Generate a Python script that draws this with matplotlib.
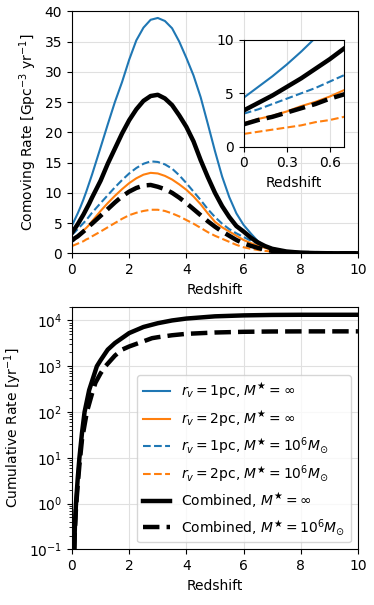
import numpy as np
import matplotlib
matplotlib.use('Agg')
from matplotlib import pyplot as plt

# redshift grid for the comoving rate curves
z = [0, 0.1, 0.2, 0.3, 0.4, 0.5, 0.6, 0.7,
     1.0, 1.25, 1.5, 1.75, 2.0, 2.25, 2.5, 2.75, 3.0, 3.25, 3.5, 3.75, 4.0, 4.25, 4.5,
     4.75, 5.0, 5.25, 5.5, 5.75, 6.0, 6.25, 6.5, 6.75, 7.0,
     7.5, 8.0, 8.5, 9.0, 10.0]

rate_1pc_inf = [4.6, 5.6, 6.6, 7.7, 8.9, 10.2, 11.6, 13.0,
                17.5, 21.3, 25, 28.3, 32, 35.2, 37.3, 38.6, 38.9, 38.4, 37.2, 35.0, 32.3, 29.4, 25.8,
                21.4, 16.9, 12.7, 9.3, 6.6, 4.7, 3.3, 2.0, 1.2, 0.75,
                0.3, 0.12, 0.05, 0.02, 0]
rate_2pc_inf = [2.2, 2.6, 2.9, 3.3, 3.8, 4.2, 4.7, 5.3,
                7.0, 8.3, 9.5, 10.6, 11.6, 12.4, 13.0, 13.3, 13.2, 12.8, 12.2, 11.4, 10.5, 9.4, 8.1,
                6.6, 5.2, 4.3, 3.6, 2.9, 2.2, 1.7, 1.3, 0.9, 0.6,
                0.25, 0.08, 0.03, 0.01, 0]
rate_1pc_1e6 = [3.1, 3.5, 4.0, 4.5, 5.0, 5.5, 6.1, 6.7,
                8.3, 9.6, 10.9, 12.1, 13.2, 14.1, 14.8, 15.2, 15.1, 14.7, 14.0, 12.9, 11.6, 10.2, 8.8,
                7.3, 6.0, 4.9, 4.0, 3.3, 2.7, 2.1, 1.6, 1.2, 0.85,
                0.35, 0.1, 0.04, 0.01, 0]
rate_2pc_1e6 = [1.2, 1.4, 1.6, 1.8, 2.0, 2.3, 2.5, 2.8,
                3.6, 4.3, 5.0, 5.7, 6.3, 6.7, 7.0, 7.2, 7.2, 7.0, 6.6, 6.1, 5.5, 4.9, 4.2,
                3.5, 2.9, 2.4, 1.9, 1.4, 1.0, 0.75, 0.55, 0.4, 0.3,
                0.1, 0.03, 0.01, 0.005, 0]
rate_comb_inf = [3.4, 4.1, 4.8, 5.6, 6.4, 7.3, 8.2, 9.2,
                 12.0, 14.8, 17.3, 19.8, 22.0, 23.8, 25.2, 26.0, 26.2, 25.6, 24.5, 22.8, 20.9, 18.5, 15.4,
                 12.6, 10.0, 7.8, 6.0, 4.5, 3.6, 2.6, 1.8, 1.2, 0.75,
                 0.3, 0.1, 0.04, 0.01, 0]
rate_comb_1e6 = [2.1, 2.5, 2.8, 3.2, 3.6, 4.0, 4.5, 4.9,
                 6.2, 7.3, 8.4, 9.4, 10.2, 10.8, 11.2, 11.3, 11.0, 10.6, 10.0, 9.2, 8.3, 7.3, 6.3,
                 5.3, 4.4, 3.6, 2.9, 2.2, 1.65, 1.25, 0.9, 0.6, 0.4,
                 0.15, 0.05, 0.02, 0.01, 0]

# cumulative rate
z_cum_inf = [0.08, 0.1, 0.14, 0.2, 0.26, 0.35, 0.44, 0.6, 0.87, 1.0, 1.25, 1.5, 2.0, 2.5, 3.0, 3.5, 4.0, 5.0, 6.0, 7.0, 8.0, 10.0]
cum_comb_inf = [0.1, 0.3, 1, 3.5, 10, 35, 100, 300, 1000, 1350, 2300, 3200, 5300, 7200, 8700, 10000, 11000, 12300, 12900, 13200, 13300, 13300]
z_cum_1e6 = [0.08, 0.1, 0.14, 0.2, 0.26, 0.35, 0.52, 0.7, 0.82, 1.0, 1.17, 1.5, 1.75, 2.0, 2.5, 2.8, 3.0, 3.5, 4.0, 5.0, 6.0, 7.0, 8.0, 10.0]
cum_comb_1e6 = [0.1, 0.25, 0.8, 2.5, 7, 25, 100, 250, 435, 700, 1000, 1700, 2300, 2700, 3500, 4100, 4300, 4750, 5100, 5450, 5650, 5740, 5770, 5780]

labels = [r'$r_v = 1$pc, $M^\bigstar = \infty$',
          r'$r_v = 2$pc, $M^\bigstar = \infty$',
          r'$r_v = 1$pc, $M^\bigstar = 10^6 M_{\odot}$',
          r'$r_v = 2$pc, $M^\bigstar = 10^6 M_{\odot}$',
          r'Combined, $M^\bigstar = \infty$',
          r'Combined, $M^\bigstar = 10^6 M_{\odot}$']

plt.rcParams['font.size'] = 10
plt.rcParams['font.family'] = ['DejaVu Sans']

blue = '#1f77b4'
orange = '#ff7f0e'
thin = 1.5
thick = 3.2

fig = plt.figure(figsize=(3.74, 6.05), dpi=100)
ax1 = fig.add_axes([0.1925, 0.5813, 0.7645, 0.40])
ax2 = fig.add_axes([0.1925, 0.0921, 0.7645, 0.401])
axin = fig.add_axes([0.652, 0.7575, 0.268, 0.1765])

def draw_rates(ax):
    ax.plot(z, rate_1pc_inf, color=blue, lw=thin)
    ax.plot(z, rate_2pc_inf, color=orange, lw=thin)
    ax.plot(z, rate_1pc_1e6, color=blue, lw=thin, ls='--')
    ax.plot(z, rate_2pc_1e6, color=orange, lw=thin, ls='--')
    ax.plot(z, rate_comb_inf, color='k', lw=thick)
    ax.plot(z, rate_comb_1e6, color='k', lw=thick, ls='--')
    ax.grid(color='#e0e0e0', lw=0.8)
    ax.set_axisbelow(True)

draw_rates(ax1)
ax1.set_xlim(0, 10)
ax1.set_ylim(0, 40)
ax1.set_xlabel('Redshift')
ax1.set_ylabel(r'Comoving Rate [Gpc$^{-3}$ yr$^{-1}$]')

draw_rates(axin)
axin.set_xlim(0, 0.7)
axin.set_ylim(0, 10)
axin.set_xticks([0, 0.3, 0.6])
axin.set_xticklabels(['0', '0.3', '0.6'])
axin.set_yticks([0, 5, 10])
axin.set_xlabel('Redshift')

# legend-only handles for the individual populations
ax2.plot([], [], color=blue, lw=thin, label=labels[0])
ax2.plot([], [], color=orange, lw=thin, label=labels[1])
ax2.plot([], [], color=blue, lw=thin, ls='--', label=labels[2])
ax2.plot([], [], color=orange, lw=thin, ls='--', label=labels[3])
ax2.plot(z_cum_inf, cum_comb_inf, color='k', lw=thick, label=labels[4])
ax2.plot(z_cum_1e6, cum_comb_1e6, color='k', lw=thick, ls='--', label=labels[5])
ax2.set_yscale('log')
ax2.set_xlim(0, 10)
ax2.set_ylim(0.1, 2e4)
ax2.grid(color='#e0e0e0', lw=0.8)
ax2.set_axisbelow(True)
ax2.set_xlabel('Redshift')
ax2.set_ylabel(r'Cumulative Rate [yr$^{-1}$]')
ax2.legend(loc='lower right')

fig.savefig('out.png', dpi=100)
